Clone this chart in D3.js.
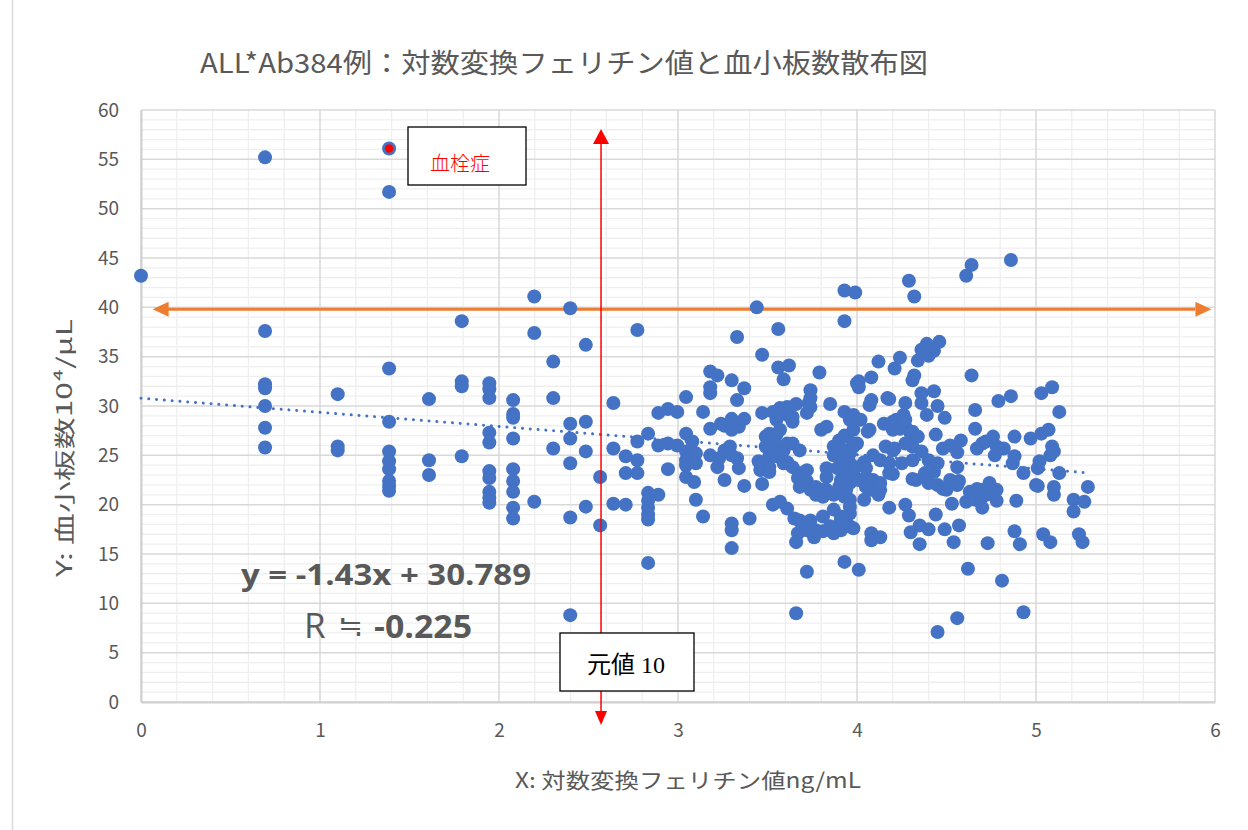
<!DOCTYPE html>
<html>
<head>
<meta charset="utf-8">
<script src="https://cdn.jsdelivr.net/npm/d3@7"></script>
<style>
  html, body { margin: 0; padding: 0; background: #fff; }
  svg { display: block; }
</style>
</head>
<body>
<svg id="chart" width="1248" height="830"></svg>
<script>
// Each point: [log-transformed ferritin (ng/mL), platelet count (10^4/μL)]
const ferritinBelow2 = [
  [0, 43.2],
  [0.693, 55.2], [0.693, 37.6], [0.693, 32.2], [0.693, 31.8], [0.693, 30.0], [0.693, 27.8], [0.693, 25.8],
  [1.099, 31.2], [1.099, 25.9], [1.099, 25.5],
  [1.386, 56.1], [1.386, 51.7], [1.386, 33.8], [1.386, 28.4], [1.386, 25.4], [1.386, 24.4], [1.386, 23.6], [1.386, 22.4], [1.386, 21.9], [1.386, 21.4],
  [1.609, 30.7], [1.609, 24.5], [1.609, 23.0],
  [1.792, 38.6], [1.792, 32.5], [1.792, 32.0], [1.792, 24.9],
  [1.946, 32.3], [1.946, 31.7], [1.946, 30.8], [1.946, 27.3], [1.946, 26.3], [1.946, 23.4], [1.946, 22.7], [1.946, 21.3], [1.946, 20.7], [1.946, 20.2]
];

const ferritin2to3 = [
  [2.079, 30.6], [2.079, 29.2], [2.079, 28.8], [2.079, 26.7], [2.079, 23.6], [2.079, 22.4], [2.079, 21.3], [2.079, 19.7], [2.079, 18.6],
  [2.197, 41.1], [2.197, 37.4], [2.197, 20.3],
  [2.303, 34.5], [2.303, 30.8], [2.303, 25.7],
  [2.398, 39.9], [2.398, 28.2], [2.398, 26.7], [2.398, 24.2], [2.398, 18.7], [2.398, 8.8],
  [2.485, 36.2], [2.485, 28.4], [2.485, 25.4], [2.485, 19.8],
  [2.565, 22.8], [2.565, 17.9],
  [2.639, 30.3], [2.639, 25.7], [2.639, 20.1],
  [2.708, 24.9], [2.708, 23.2], [2.708, 20.0],
  [2.773, 37.7], [2.773, 26.4], [2.773, 24.5], [2.773, 23.2],
  [2.833, 27.2], [2.833, 21.2], [2.833, 20.4], [2.833, 19.7], [2.833, 19.0], [2.833, 18.5], [2.833, 14.1],
  [2.890, 29.3], [2.890, 26.0], [2.890, 21.0],
  [2.944, 29.7], [2.944, 26.2], [2.944, 23.6],
  [2.996, 29.4], [2.996, 26.0]
];

const ferritin3to4 = [
  [3.045, 30.9], [3.045, 27.2], [3.045, 25.4], [3.045, 24.5], [3.045, 24.0], [3.045, 22.8],
  [3.08, 26.4], [3.09, 22.3], [3.10, 25.2], [3.10, 24.2], [3.10, 20.5],
  [3.14, 29.4], [3.14, 18.8],
  [3.18, 33.5], [3.18, 31.9], [3.18, 31.3], [3.18, 27.7], [3.18, 25.0],
  [3.22, 33.1], [3.22, 23.8], [3.23, 24.7], [3.24, 28.2],
  [3.26, 28.0], [3.26, 25.5], [3.26, 22.5],
  [3.30, 32.6], [3.30, 28.7], [3.30, 27.6], [3.29, 25.9], [3.30, 25.0], [3.30, 18.1], [3.30, 17.4], [3.30, 15.6],
  [3.33, 37.0], [3.33, 30.6], [3.33, 24.7], [3.34, 27.9], [3.34, 23.7],
  [3.37, 31.8], [3.37, 28.7], [3.37, 21.9],
  [3.40, 18.6],
  [3.44, 40.0], [3.45, 24.4], [3.46, 23.5],
  [3.47, 35.2], [3.47, 29.3], [3.47, 22.1],
  [3.49, 26.9], [3.49, 25.9],
  [3.51, 27.2], [3.51, 24.9], [3.51, 23.8], [3.51, 23.3],
  [3.53, 26.2], [3.53, 20.0], [3.53, 29.4],
  [3.55, 28.6], [3.55, 27.1], [3.55, 26.0], [3.55, 24.9],
  [3.56, 37.8], [3.56, 33.9],
  [3.57, 29.8], [3.57, 27.6], [3.57, 25.2], [3.57, 20.3],
  [3.59, 32.7], [3.59, 25.5], [3.59, 24.2],
  [3.61, 29.4], [3.61, 29.1], [3.61, 26.2], [3.61, 24.3], [3.61, 19.6], [3.61, 29.9],
  [3.62, 34.1],
  [3.64, 28.4], [3.64, 28.9], [3.64, 23.8], [3.64, 26.2],
  [3.66, 30.2], [3.66, 16.2], [3.66, 9.0], [3.65, 18.6],
  [3.67, 22.7], [3.67, 17.1],
  [3.68, 21.8], [3.68, 18.4], [3.68, 23.2], [3.68, 25.5],
  [3.69, 18.1],
  [3.72, 23.5], [3.72, 22.4], [3.72, 29.3], [3.72, 13.2], [3.72, 17.4],
  [3.74, 31.6], [3.74, 30.8], [3.73, 30.3], [3.74, 29.9], [3.74, 21.5], [3.74, 18.4],
  [3.76, 16.7],
  [3.77, 21.0], [3.77, 17.4], [3.77, 21.8],
  [3.79, 33.4],
  [3.80, 27.6], [3.80, 21.5],
  [3.81, 17.3], [3.81, 18.8], [3.81, 20.8],
  [3.83, 27.9], [3.83, 23.7], [3.83, 22.8], [3.83, 21.5],
  [3.85, 30.2], [3.85, 17.8],
  [3.87, 25.9], [3.87, 25.0], [3.87, 21.0], [3.87, 19.5], [3.87, 17.1],
  [3.89, 23.7], [3.89, 24.9],
  [3.90, 26.5], [3.90, 21.8],
  [3.91, 18.8], [3.91, 17.8], [3.91, 22.5], [3.91, 18.4], [3.91, 17.4],
  [3.93, 41.7], [3.93, 38.6], [3.93, 29.4], [3.93, 27.0], [3.93, 24.2], [3.93, 20.8], [3.93, 14.2],
  [3.94, 26.9], [3.94, 23.0], [3.94, 21.5], [3.94, 25.5],
  [3.96, 28.6], [3.96, 25.2], [3.96, 19.1], [3.96, 17.8], [3.96, 19.8], [3.96, 24.2], [3.96, 22.2], [3.96, 20.5],
  [3.98, 27.6], [3.98, 29.1], [3.98, 26.2], [3.98, 23.0], [3.98, 25.9], [3.98, 17.6],
  [3.99, 41.5], [3.99, 23.8]
];

const ferritin4to5 = [
  [4.00, 32.3], [4.00, 26.2],
  [4.01, 32.5], [4.01, 31.9], [4.01, 22.5], [4.01, 13.4],
  [4.02, 28.6],
  [4.04, 20.5], [4.04, 24.3],
  [4.05, 21.8], [4.05, 23.7], [4.05, 22.8],
  [4.06, 27.4],
  [4.07, 27.6], [4.07, 30.1],
  [4.08, 32.9], [4.08, 30.6], [4.08, 17.1], [4.08, 16.4], [4.08, 21.5],
  [4.09, 22.5], [4.09, 25.0],
  [4.12, 34.5], [4.12, 21.0],
  [4.13, 24.5], [4.13, 21.5], [4.13, 16.7], [4.13, 22.2],
  [4.15, 28.2],
  [4.16, 25.9],
  [4.17, 30.8],
  [4.18, 30.7], [4.18, 19.7], [4.18, 23.2], [4.18, 24.2],
  [4.20, 28.4], [4.20, 25.5], [4.20, 23.1], [4.20, 27.6],
  [4.21, 33.8], [4.21, 25.7],
  [4.22, 28.6],
  [4.24, 34.9], [4.24, 27.7],
  [4.25, 24.2],
  [4.26, 29.1],
  [4.27, 30.3], [4.27, 27.9], [4.27, 20.0], [4.27, 28.6], [4.27, 26.2],
  [4.29, 42.7], [4.29, 18.9],
  [4.30, 17.2], [4.30, 27.2],
  [4.31, 24.5], [4.31, 25.9], [4.31, 27.4], [4.31, 32.6], [4.31, 22.6],
  [4.32, 41.1], [4.32, 33.1],
  [4.33, 22.5],
  [4.34, 34.6], [4.34, 26.9],
  [4.35, 17.9], [4.35, 16.0],
  [4.36, 35.7], [4.36, 31.3], [4.36, 30.3], [4.36, 25.4],
  [4.38, 23.2],
  [4.39, 36.3], [4.39, 29.1],
  [4.40, 35.1], [4.40, 22.2], [4.40, 17.5], [4.40, 24.5],
  [4.43, 35.6], [4.43, 31.5], [4.43, 23.3],
  [4.44, 27.1], [4.44, 19.0],
  [4.45, 30.0], [4.45, 24.2], [4.45, 22.0], [4.45, 7.1],
  [4.46, 36.5],
  [4.48, 25.7], [4.48, 21.6],
  [4.49, 28.8], [4.49, 17.5],
  [4.50, 21.5],
  [4.52, 26.0], [4.52, 22.5],
  [4.53, 20.1],
  [4.54, 16.2],
  [4.56, 23.8], [4.56, 25.3], [4.56, 22.0], [4.56, 8.5],
  [4.57, 17.9], [4.57, 22.4],
  [4.58, 26.5],
  [4.61, 43.2], [4.61, 20.3],
  [4.62, 13.5],
  [4.63, 21.3],
  [4.64, 44.3], [4.64, 33.1],
  [4.66, 29.6], [4.66, 27.7], [4.66, 20.5],
  [4.67, 25.7], [4.67, 21.6],
  [4.69, 21.5],
  [4.70, 26.2], [4.70, 19.7], [4.70, 20.8],
  [4.72, 26.4], [4.72, 21.0],
  [4.73, 16.1],
  [4.74, 22.2],
  [4.76, 26.9], [4.76, 21.0],
  [4.77, 25.0],
  [4.78, 25.9], [4.78, 20.4], [4.78, 21.5],
  [4.79, 30.5],
  [4.81, 12.3],
  [4.82, 25.7],
  [4.86, 44.8], [4.86, 31.0],
  [4.87, 24.2],
  [4.88, 26.9], [4.88, 24.9], [4.88, 17.3],
  [4.89, 20.4],
  [4.91, 16.0],
  [4.93, 23.2], [4.93, 9.1],
  [4.97, 26.7]
];

const ferritinAbove5 = [
  [5.00, 22.0],
  [5.01, 23.7], [5.01, 21.9],
  [5.02, 24.4],
  [5.03, 31.3], [5.03, 27.2],
  [5.04, 17.0],
  [5.07, 27.6],
  [5.08, 16.2], [5.08, 25.0],
  [5.09, 31.9], [5.09, 25.9],
  [5.10, 25.4], [5.10, 21.8], [5.10, 21.0],
  [5.13, 29.4], [5.13, 23.2],
  [5.21, 20.5], [5.21, 19.3],
  [5.24, 17.0],
  [5.26, 16.2],
  [5.27, 20.3],
  [5.29, 21.8]
];

// Case with thrombosis, highlighted in red
const thrombosisCase = [[1.386, 56.1]];

// Linear fit shown on the chart
const fitSlope = -1.43;
const fitIntercept = 30.789;
const correlationR = "-0.225";

// Reference lines: platelet 40 and ferritin original value 10
const plateletReference = 39.8;
const ferritinReference = 2.57;

const xTicks = [0, 1, 2, 3, 4, 5, 6];
const yTicks = [0, 5, 10, 15, 20, 25, 30, 35, 40, 45, 50, 55, 60];

const titleText = "ALL*Ab384例：対数変換フェリチン値と血小板数散布図";
const xTitle = "X: 対数変換フェリチン値ng/mL";
const yTitle = "Y: 血小板数10⁴/μL";

const points = [].concat(ferritinBelow2, ferritin2to3, ferritin3to4, ferritin4to5, ferritinAbove5);

const svg = d3.select("#chart");
const plotLeft = 141, plotRight = 1215, plotTop = 110, plotBottom = 702;

const x = d3.scaleLinear().domain([0, 6]).range([plotLeft, plotRight]);
const y = d3.scaleLinear().domain([0, 60]).range([plotBottom, plotTop]);

const latinFont = "'Liberation Sans Narrow','Noto Sans CJK JP',sans-serif";
const grey = "#595959";

// chart-area outline
svg.append("rect")
  .attr("x", 12.5).attr("y", -2).attr("width", 1300).attr("height", 900)
  .attr("fill", "none").attr("stroke", "#d9d9d9").attr("stroke-width", 1.5);

// gridlines
const grid = svg.append("g");
const minorX = d3.range(0, 6.001, 0.2).filter(v => Math.abs(v - Math.round(v)) > 1e-6);
const minorY = d3.range(0, 60.001, 1).filter(v => v % 5 !== 0);
grid.selectAll(".mx").data(minorX).join("line")
  .attr("x1", d => x(d)).attr("x2", d => x(d)).attr("y1", plotTop).attr("y2", plotBottom)
  .attr("stroke", "#efefef").attr("stroke-width", 1.3);
grid.selectAll(".my").data(minorY).join("line")
  .attr("x1", plotLeft).attr("x2", plotRight).attr("y1", d => y(d)).attr("y2", d => y(d))
  .attr("stroke", "#efefef").attr("stroke-width", 1.3);
grid.selectAll(".Mx").data(xTicks).join("line")
  .attr("x1", d => x(d)).attr("x2", d => x(d)).attr("y1", plotTop).attr("y2", plotBottom)
  .attr("stroke", "#d9d9d9").attr("stroke-width", 1.5);
grid.selectAll(".My").data(yTicks).join("line")
  .attr("x1", plotLeft).attr("x2", plotRight).attr("y1", d => y(d)).attr("y2", d => y(d))
  .attr("stroke", "#d9d9d9").attr("stroke-width", 1.5);

// axes
const xAxis = svg.append("g").attr("transform", `translate(0,${plotBottom})`)
  .call(d3.axisBottom(x).tickValues(xTicks).tickSize(0).tickPadding(22).tickFormat(d3.format("d")));
const yAxis = svg.append("g").attr("transform", `translate(${plotLeft},0)`)
  .call(d3.axisLeft(y).tickValues(yTicks).tickSize(0).tickPadding(22).tickFormat(d3.format("d")));
[xAxis, yAxis].forEach(g => {
  g.select(".domain").attr("stroke", "#d0d0d0").attr("stroke-width", 2);
  g.selectAll("text").attr("fill", grey).attr("font-size", 19).attr("font-family", latinFont);
});

// horizontal reference arrow (orange)
const orange = "#ED7D31";
const hy = y(plateletReference);
svg.append("line")
  .attr("x1", x(0.09)).attr("x2", x(5.89)).attr("y1", hy).attr("y2", hy)
  .attr("stroke", orange).attr("stroke-width", 3);
const hl = x(0.065), hr = x(5.98);
svg.append("path").attr("fill", orange)
  .attr("d", `M${hl},${hy} L${hl + 16},${hy - 7.5} L${hl + 16},${hy + 7.5} Z`);
svg.append("path").attr("fill", orange)
  .attr("d", `M${hr},${hy} L${hr - 16},${hy - 7.5} L${hr - 16},${hy + 7.5} Z`);

// trend line
const xMax = d3.max(points, d => d[0]);
svg.append("line")
  .attr("x1", x(0)).attr("y1", y(fitIntercept))
  .attr("x2", x(xMax)).attr("y2", y(fitSlope * xMax + fitIntercept))
  .attr("stroke", "#4472C4").attr("stroke-width", 3)
  .attr("stroke-linecap", "round").attr("stroke-dasharray", "0.01 7.8");

// points
svg.append("g").selectAll("circle").data(points).join("circle")
  .attr("cx", d => x(d[0])).attr("cy", d => y(d[1])).attr("r", 7)
  .attr("fill", "#4472C4");
svg.append("g").selectAll("circle").data(thrombosisCase).join("circle")
  .attr("cx", d => x(d[0])).attr("cy", d => y(d[1])).attr("r", 4.2)
  .attr("fill", "#FF0000");

// vertical reference arrow (red)
const vx = x(ferritinReference);
svg.append("line")
  .attr("x1", vx).attr("x2", vx).attr("y1", 140).attr("y2", 714)
  .attr("stroke", "#FF0000").attr("stroke-width", 1.5);
svg.append("path").attr("fill", "#FF0000")
  .attr("d", `M${vx},129 L${vx - 8},144 L${vx + 8},144 Z`);
svg.append("path").attr("fill", "#FF0000")
  .attr("d", `M${vx},725 L${vx - 6},711 L${vx + 6},711 Z`);

// annotation boxes
svg.append("rect").attr("x", 408).attr("y", 127).attr("width", 118).attr("height", 58)
  .attr("fill", "#fff").attr("stroke", "#000").attr("stroke-width", 1.3);
svg.append("text").attr("x", 460).attr("y", 162).attr("text-anchor", "middle")
  .attr("dominant-baseline", "central")
  .attr("font-family", "'Noto Sans CJK JP',sans-serif").attr("font-size", 20).attr("font-weight", 300)
  .attr("fill", "#FF0000").text("血栓症");

svg.append("rect").attr("x", 560).attr("y", 633).attr("width", 134).attr("height", 58)
  .attr("fill", "#fff").attr("stroke", "#000").attr("stroke-width", 1.3);
svg.append("text").attr("x", 626).attr("y", 665).attr("text-anchor", "middle")
  .attr("dominant-baseline", "central")
  .attr("font-family", "'Liberation Serif','Noto Sans CJK JP',serif").attr("font-size", 24)
  .attr("fill", "#000").text("元値 10");

// regression equation and correlation
svg.append("text").attr("x", 241).attr("y", 585)
  .attr("font-family", "'Open Sans','Liberation Sans',sans-serif").attr("font-weight", "bold")
  .attr("font-size", 28).attr("fill", grey)
  .attr("textLength", 290).attr("lengthAdjust", "spacingAndGlyphs")
  .text(`y = ${fitSlope}x + ${fitIntercept}`);
svg.append("text").attr("x", 304).attr("y", 638)
  .attr("font-family", "'Open Sans','Liberation Sans',sans-serif")
  .attr("font-size", 35).attr("fill", grey).text("R");
svg.append("text").attr("x", 338).attr("y", 636)
  .attr("font-family", "'Noto Sans CJK JP',sans-serif")
  .attr("font-size", 30).attr("fill", grey).text("≒");
svg.append("text").attr("x", 374).attr("y", 638)
  .attr("font-family", "'Open Sans','Liberation Sans',sans-serif").attr("font-weight", "bold")
  .attr("font-size", 32).attr("fill", grey)
  .attr("textLength", 98).attr("lengthAdjust", "spacingAndGlyphs")
  .text(correlationR);

// titles
svg.append("text").attr("x", 200).attr("y", 61).attr("dominant-baseline", "central")
  .attr("font-family", latinFont).attr("font-size", 27).attr("fill", grey)
  .attr("textLength", 728).attr("lengthAdjust", "spacingAndGlyphs")
  .text(titleText);
svg.append("text").attr("x", 515).attr("y", 779).attr("dominant-baseline", "central")
  .attr("font-family", latinFont).attr("font-size", 21).attr("fill", grey)
  .attr("textLength", 346).attr("lengthAdjust", "spacingAndGlyphs")
  .text(xTitle);
svg.append("text")
  .attr("transform", "translate(63,577) rotate(-90)")
  .attr("dominant-baseline", "central")
  .attr("font-family", latinFont).attr("font-size", 21).attr("fill", grey)
  .attr("textLength", 258).attr("lengthAdjust", "spacingAndGlyphs")
  .text(yTitle);
</script>
</body>
</html>
